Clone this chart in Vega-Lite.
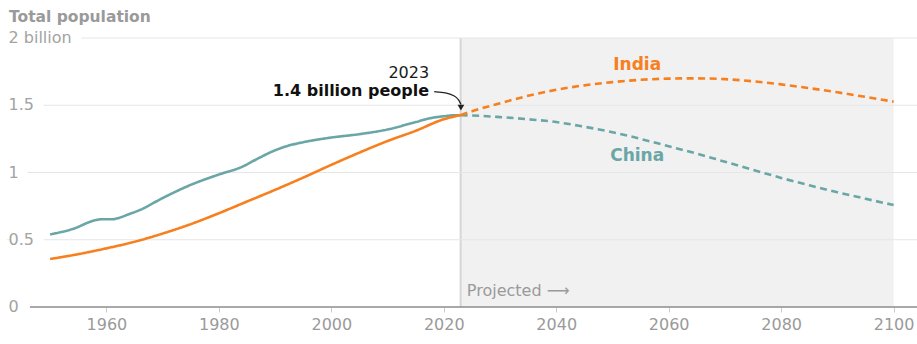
{
  "$schema": "https://vega.github.io/schema/vega-lite/v6.json",
  "width": 917,
  "height": 269,
  "autosize": {"type": "none"},
  "padding": {"left": 0, "top": 38, "right": 0, "bottom": 37},
  "background": "white",
  "title": {"text": "Total population", "anchor": "start", "frame": "group", "fontSize": 15.5, "font": "DejaVu Sans", "fontWeight": "bold", "color": "#9a9a9a", "baseline": "alphabetic", "offset": -7, "dx": 9},
  "config": {
    "view": {"stroke": null},
    "font": "DejaVu Sans",
    "axisX": {"title": null, "domain": false, "grid": false, "ticks": true, "tickColor": "#cccccc", "tickSize": 5, "labelFontSize": 16, "labelColor": "#9a9a9a", "labelPadding": 4, "labelFont": "DejaVu Sans", "labelFlush": false, "labelOverlap": false, "format": "d"}
  },
  "datasets": {
    "ticks": [
      {"value": 0, "label": "0"},
      {"value": 0.5, "label": "0.5"},
      {"value": 1, "label": "1"},
      {"value": 1.5, "label": "1.5"},
      {"value": 2, "label": "2 billion"}
    ],
    "pop": [
      {"country": "China", "type": "Estimate", "year": 1950, "value": 0.54},
      {"country": "China", "type": "Estimate", "year": 1954, "value": 0.58},
      {"country": "China", "type": "Estimate", "year": 1958, "value": 0.645},
      {"country": "China", "type": "Estimate", "year": 1959, "value": 0.652},
      {"country": "China", "type": "Estimate", "year": 1961, "value": 0.652},
      {"country": "China", "type": "Estimate", "year": 1962, "value": 0.66},
      {"country": "China", "type": "Estimate", "year": 1964, "value": 0.69},
      {"country": "China", "type": "Estimate", "year": 1966, "value": 0.722},
      {"country": "China", "type": "Estimate", "year": 1970, "value": 0.81},
      {"country": "China", "type": "Estimate", "year": 1975, "value": 0.908},
      {"country": "China", "type": "Estimate", "year": 1980, "value": 0.985},
      {"country": "China", "type": "Estimate", "year": 1984, "value": 1.04},
      {"country": "China", "type": "Estimate", "year": 1987, "value": 1.105},
      {"country": "China", "type": "Estimate", "year": 1990, "value": 1.165},
      {"country": "China", "type": "Estimate", "year": 1992, "value": 1.195},
      {"country": "China", "type": "Estimate", "year": 1995, "value": 1.225},
      {"country": "China", "type": "Estimate", "year": 2000, "value": 1.26},
      {"country": "China", "type": "Estimate", "year": 2005, "value": 1.285},
      {"country": "China", "type": "Estimate", "year": 2010, "value": 1.32},
      {"country": "China", "type": "Estimate", "year": 2015, "value": 1.375},
      {"country": "China", "type": "Estimate", "year": 2018, "value": 1.407},
      {"country": "China", "type": "Estimate", "year": 2020, "value": 1.418},
      {"country": "China", "type": "Estimate", "year": 2022, "value": 1.426},
      {"country": "China", "type": "Estimate", "year": 2023, "value": 1.426},
      {"country": "China", "type": "Projected", "year": 2023, "value": 1.426},
      {"country": "China", "type": "Projected", "year": 2025, "value": 1.424},
      {"country": "China", "type": "Projected", "year": 2030, "value": 1.412},
      {"country": "China", "type": "Projected", "year": 2035, "value": 1.396},
      {"country": "China", "type": "Projected", "year": 2040, "value": 1.375},
      {"country": "China", "type": "Projected", "year": 2045, "value": 1.34},
      {"country": "China", "type": "Projected", "year": 2050, "value": 1.3},
      {"country": "China", "type": "Projected", "year": 2055, "value": 1.25},
      {"country": "China", "type": "Projected", "year": 2060, "value": 1.195},
      {"country": "China", "type": "Projected", "year": 2065, "value": 1.14},
      {"country": "China", "type": "Projected", "year": 2070, "value": 1.08},
      {"country": "China", "type": "Projected", "year": 2075, "value": 1.02},
      {"country": "China", "type": "Projected", "year": 2080, "value": 0.96},
      {"country": "China", "type": "Projected", "year": 2085, "value": 0.905},
      {"country": "China", "type": "Projected", "year": 2090, "value": 0.853},
      {"country": "China", "type": "Projected", "year": 2095, "value": 0.805},
      {"country": "China", "type": "Projected", "year": 2100, "value": 0.758},
      {"country": "India", "type": "Estimate", "year": 1950, "value": 0.357},
      {"country": "India", "type": "Estimate", "year": 1955, "value": 0.393},
      {"country": "India", "type": "Estimate", "year": 1960, "value": 0.436},
      {"country": "India", "type": "Estimate", "year": 1965, "value": 0.485},
      {"country": "India", "type": "Estimate", "year": 1970, "value": 0.546},
      {"country": "India", "type": "Estimate", "year": 1975, "value": 0.616},
      {"country": "India", "type": "Estimate", "year": 1980, "value": 0.697},
      {"country": "India", "type": "Estimate", "year": 1985, "value": 0.784},
      {"country": "India", "type": "Estimate", "year": 1990, "value": 0.871},
      {"country": "India", "type": "Estimate", "year": 1995, "value": 0.962},
      {"country": "India", "type": "Estimate", "year": 2000, "value": 1.057},
      {"country": "India", "type": "Estimate", "year": 2005, "value": 1.148},
      {"country": "India", "type": "Estimate", "year": 2010, "value": 1.234},
      {"country": "India", "type": "Estimate", "year": 2015, "value": 1.31},
      {"country": "India", "type": "Estimate", "year": 2020, "value": 1.396},
      {"country": "India", "type": "Estimate", "year": 2023, "value": 1.427},
      {"country": "India", "type": "Projected", "year": 2023, "value": 1.427},
      {"country": "India", "type": "Projected", "year": 2025, "value": 1.455},
      {"country": "India", "type": "Projected", "year": 2030, "value": 1.515},
      {"country": "India", "type": "Projected", "year": 2035, "value": 1.57},
      {"country": "India", "type": "Projected", "year": 2040, "value": 1.615},
      {"country": "India", "type": "Projected", "year": 2045, "value": 1.648},
      {"country": "India", "type": "Projected", "year": 2050, "value": 1.672},
      {"country": "India", "type": "Projected", "year": 2055, "value": 1.689},
      {"country": "India", "type": "Projected", "year": 2060, "value": 1.698},
      {"country": "India", "type": "Projected", "year": 2065, "value": 1.7},
      {"country": "India", "type": "Projected", "year": 2070, "value": 1.694},
      {"country": "India", "type": "Projected", "year": 2075, "value": 1.678},
      {"country": "India", "type": "Projected", "year": 2080, "value": 1.655},
      {"country": "India", "type": "Projected", "year": 2085, "value": 1.627},
      {"country": "India", "type": "Projected", "year": 2090, "value": 1.596},
      {"country": "India", "type": "Projected", "year": 2095, "value": 1.562},
      {"country": "India", "type": "Projected", "year": 2100, "value": 1.527}
    ],
    "names": [
      {"country": "India", "year": 2054.4, "value": 1.8},
      {"country": "China", "year": 2054.4, "value": 1.123}
    ],
    "arrow": [
      {"year": 2018.3, "value": 1.601},
      {"year": 2020.4, "value": 1.595},
      {"year": 2021.9, "value": 1.572},
      {"year": 2022.75, "value": 1.539},
      {"year": 2023.05, "value": 1.505}
    ]
  },
  "layer": [
    {
      "data": {"values": [{}]},
      "mark": {"type": "rect", "color": "#f1f1f1"},
      "encoding": {
        "x": {"datum": 2023, "type": "quantitative", "scale": {"domain": [1941.08, 2104.16], "nice": false, "zero": false}, "axis": {"values": [1960, 1980, 2000, 2020, 2040, 2060, 2080, 2100], "title": null}},
        "x2": {"datum": 2100},
        "y": {"datum": 0, "type": "quantitative", "scale": {"domain": [0, 2], "nice": false}, "axis": null},
        "y2": {"datum": 2}
      }
    },
    {
      "data": {"values": [{}]},
      "mark": {"type": "rule", "color": "#d6d6d6", "strokeWidth": 2},
      "encoding": {
        "x": {"datum": 2023, "type": "quantitative", "scale": {"domain": [1941.08, 2104.16], "nice": false, "zero": false}, "axis": {"values": [1960, 1980, 2000, 2020, 2040, 2060, 2080, 2100], "title": null}},
        "y": {"datum": 0, "type": "quantitative", "scale": {"domain": [0, 2], "nice": false}, "axis": null},
        "y2": {"datum": 2}
      }
    },
    {
      "data": {"name": "ticks"},
      "transform": [{"filter": "datum.value > 0"}],
      "mark": {"type": "rule", "color": "#e6e6e6", "strokeWidth": 1.2},
      "encoding": {
        "y": {"field": "value", "type": "quantitative", "scale": {"domain": [0, 2], "nice": false}, "axis": null}
      }
    },
    {
      "data": {"name": "ticks"},
      "transform": [{"filter": "datum.value > 0"}],
      "mark": {"type": "text", "align": "left", "baseline": "middle", "fontSize": 16, "fill": "white", "stroke": "white", "strokeWidth": 22, "strokeJoin": "round"},
      "encoding": {
        "x": {"datum": 1942.6, "type": "quantitative", "scale": {"domain": [1941.08, 2104.16], "nice": false, "zero": false}, "axis": {"values": [1960, 1980, 2000, 2020, 2040, 2060, 2080, 2100], "title": null}},
        "y": {"field": "value", "type": "quantitative", "scale": {"domain": [0, 2], "nice": false}, "axis": null},
        "text": {"field": "label"}
      }
    },
    {
      "data": {"values": [{}]},
      "mark": {"type": "rule", "color": "#8c8c8c", "strokeWidth": 1.6},
      "encoding": {
        "x": {"datum": 1946.4, "type": "quantitative", "scale": {"domain": [1941.08, 2104.16], "nice": false, "zero": false}, "axis": {"values": [1960, 1980, 2000, 2020, 2040, 2060, 2080, 2100], "title": null}},
        "x2": {"datum": 2104.16},
        "y": {"datum": 0, "type": "quantitative", "scale": {"domain": [0, 2], "nice": false}, "axis": null}
      }
    },
    {
      "data": {"name": "ticks"},
      "mark": {"type": "text", "align": "left", "baseline": "middle", "fontSize": 16, "color": "#a3a3a3"},
      "encoding": {
        "x": {"datum": 1942.6, "type": "quantitative", "scale": {"domain": [1941.08, 2104.16], "nice": false, "zero": false}, "axis": {"values": [1960, 1980, 2000, 2020, 2040, 2060, 2080, 2100], "title": null}},
        "y": {"field": "value", "type": "quantitative", "scale": {"domain": [0, 2], "nice": false}, "axis": null},
        "text": {"field": "label"}
      }
    },
    {
      "data": {"name": "pop"},
      "mark": {"type": "line", "strokeWidth": 2.6, "interpolate": "monotone"},
      "encoding": {
        "x": {"field": "year", "type": "quantitative", "scale": {"domain": [1941.08, 2104.16], "nice": false, "zero": false}, "axis": {"values": [1960, 1980, 2000, 2020, 2040, 2060, 2080, 2100], "title": null}},
        "y": {"field": "value", "type": "quantitative", "scale": {"domain": [0, 2], "nice": false}, "axis": null},
        "color": {"field": "country", "type": "nominal", "scale": {"domain": ["India", "China"], "range": ["#f77f1e", "#6aa6a6"]}, "legend": null},
        "strokeDash": {"field": "type", "type": "nominal", "scale": {"domain": ["Estimate", "Projected"], "range": [[1, 0], [7, 4.5]]}, "legend": null},
        "detail": {"field": "type"}
      }
    },
    {
      "data": {"name": "names"},
      "mark": {"type": "text", "align": "center", "baseline": "middle", "fontSize": 17, "fontWeight": "bold"},
      "encoding": {
        "x": {"field": "year", "type": "quantitative", "scale": {"domain": [1941.08, 2104.16], "nice": false, "zero": false}, "axis": {"values": [1960, 1980, 2000, 2020, 2040, 2060, 2080, 2100], "title": null}},
        "y": {"field": "value", "type": "quantitative", "scale": {"domain": [0, 2], "nice": false}, "axis": null},
        "text": {"field": "country"},
        "color": {"field": "country", "type": "nominal", "scale": {"domain": ["India", "China"], "range": ["#f77f1e", "#6aa6a6"]}, "legend": null}
      }
    },
    {
      "data": {"values": [{"label": "2023"}]},
      "mark": {"type": "text", "align": "right", "baseline": "middle", "fontSize": 16, "color": "#1a1a1a"},
      "encoding": {
        "x": {"datum": 2017.4, "type": "quantitative", "scale": {"domain": [1941.08, 2104.16], "nice": false, "zero": false}, "axis": {"values": [1960, 1980, 2000, 2020, 2040, 2060, 2080, 2100], "title": null}},
        "y": {"datum": 1.742, "type": "quantitative", "scale": {"domain": [0, 2], "nice": false}, "axis": null},
        "text": {"field": "label"}
      }
    },
    {
      "data": {"values": [{"label": "1.4 billion people"}]},
      "mark": {"type": "text", "align": "right", "baseline": "middle", "fontSize": 16, "fontWeight": "bold", "color": "#111111"},
      "encoding": {
        "x": {"datum": 2017.4, "type": "quantitative", "scale": {"domain": [1941.08, 2104.16], "nice": false, "zero": false}, "axis": {"values": [1960, 1980, 2000, 2020, 2040, 2060, 2080, 2100], "title": null}},
        "y": {"datum": 1.608, "type": "quantitative", "scale": {"domain": [0, 2], "nice": false}, "axis": null},
        "text": {"field": "label"}
      }
    },
    {
      "data": {"name": "arrow"},
      "mark": {"type": "line", "color": "#222222", "strokeWidth": 1.3, "interpolate": "basis"},
      "encoding": {
        "x": {"field": "year", "type": "quantitative", "scale": {"domain": [1941.08, 2104.16], "nice": false, "zero": false}, "axis": {"values": [1960, 1980, 2000, 2020, 2040, 2060, 2080, 2100], "title": null}},
        "y": {"field": "value", "type": "quantitative", "scale": {"domain": [0, 2], "nice": false}, "axis": null}
      }
    },
    {
      "data": {"values": [{"year": 2023.05, "value": 1.483}]},
      "mark": {"type": "point", "shape": "triangle-down", "filled": true, "color": "#222222", "size": 45, "opacity": 1},
      "encoding": {
        "x": {"field": "year", "type": "quantitative", "scale": {"domain": [1941.08, 2104.16], "nice": false, "zero": false}, "axis": {"values": [1960, 1980, 2000, 2020, 2040, 2060, 2080, 2100], "title": null}},
        "y": {"field": "value", "type": "quantitative", "scale": {"domain": [0, 2], "nice": false}, "axis": null}
      }
    },
    {
      "data": {"values": [{"label": "Projected ⟶"}]},
      "mark": {"type": "text", "align": "left", "baseline": "middle", "fontSize": 16, "color": "#9a9a9a"},
      "encoding": {
        "x": {"datum": 2024.1, "type": "quantitative", "scale": {"domain": [1941.08, 2104.16], "nice": false, "zero": false}, "axis": {"values": [1960, 1980, 2000, 2020, 2040, 2060, 2080, 2100], "title": null}},
        "y": {"datum": 0.121, "type": "quantitative", "scale": {"domain": [0, 2], "nice": false}, "axis": null},
        "text": {"field": "label"}
      }
    }
  ]
}
